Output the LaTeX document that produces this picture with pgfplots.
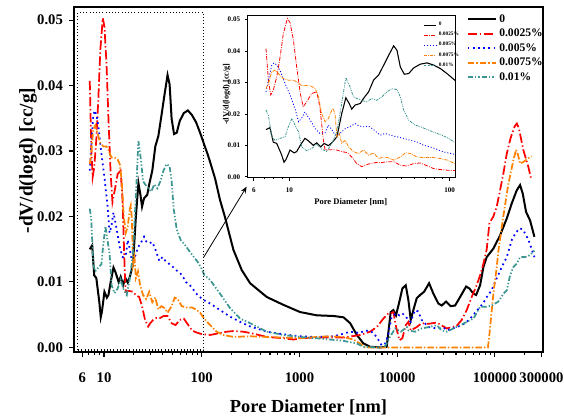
\documentclass[border=0pt]{standalone}
\usepackage{fontspec}
\setmainfont{Liberation Serif}
\usepackage{pgfplots}
\pgfplotsset{compat=1.18}
\usepackage{pgfplotstable}
\usetikzlibrary{arrows.meta}
\definecolor{cred}{RGB}{255,0,0}
\definecolor{cblue}{RGB}{0,0,255}
\definecolor{corange}{RGB}{255,128,0}
\definecolor{cteal}{RGB}{60,150,145}

\pgfplotstableread{
x y
7.15 0.0150
7.57 0.0156
7.94 0.0110
8.34 0.0106
8.96 0.0069
9.26 0.0046
9.53 0.0055
10.1 0.0085
10.7 0.0076
11.1 0.0080
11.7 0.0100
12.5 0.0122
13.1 0.0115
14.1 0.0100
14.8 0.0108
15.7 0.0095
16.5 0.0106
17.5 0.0099
18.4 0.0108
19.8 0.0127
21.2 0.0200
22.5 0.0251
23.6 0.0233
24.5 0.0215
25.7 0.0228
27.7 0.0233
29.0 0.0249
31.2 0.0270
33.5 0.0307
36.0 0.0323
38.7 0.0354
41.6 0.0386
44.7 0.0416
46.9 0.0402
49.2 0.0349
52.1 0.0326
55.5 0.0328
59.6 0.0346
65.6 0.0358
72.2 0.0362
79.4 0.0355
87.5 0.0344
96.2 0.0328
105.9 0.0310
115 0.0295
122 0.0283
137 0.0258
154 0.0225
173 0.0199
211 0.0149
257 0.0118
313 0.0098
463 0.0077
686 0.0065
1016 0.0054
1507 0.0049
2230 0.0048
2825 0.0046
3305 0.0037
3866 0.0019
4523 0.0006
5292 0.0001
6700 0.0000
7816 0.0001
8590 0.0054
9150 0.0057
9740 0.0049
10540 0.0070
11310 0.0090
12240 0.0095
13040 0.0072
13770 0.0042
14660 0.0057
15850 0.0075
17170 0.0080
18870 0.0085
21230 0.0098
23510 0.0082
26440 0.0067
28590 0.0064
31690 0.0070
35370 0.0063
39200 0.0064
44090 0.0077
50780 0.0093
54950 0.0090
60380 0.0082
64280 0.0080
70650 0.0095
76400 0.0123
82600 0.0138
96600 0.0151
113000 0.0171
132400 0.0197
148900 0.0220
167500 0.0240
181200 0.0248
192900 0.0235
208700 0.0207
229200 0.0194
254000 0.0169
}\tblA

\pgfplotstableread{
x y
7.15 0.0407
7.4 0.0307
7.65 0.0260
7.94 0.0275
8.34 0.0317
8.75 0.0380
9.17 0.0455
9.72 0.0503
10.1 0.0490
10.6 0.0434
11.1 0.0350
11.7 0.0265
12.2 0.0222
12.8 0.0238
13.8 0.0265
14.8 0.0270
15.5 0.0222
16.3 0.0116
16.7 0.0085
17.5 0.0086
18.4 0.0086
19.8 0.0085
21.2 0.0080
22.9 0.0077
24.5 0.0063
26.3 0.0042
28.3 0.0032
29.7 0.0037
31.9 0.0042
34.3 0.0045
37.6 0.0045
40.7 0.0048
44.7 0.0048
49.2 0.0037
53.9 0.0034
59.6 0.0042
65.6 0.0044
72.2 0.0035
79.4 0.0026
87.5 0.0023
96.2 0.0021
105.9 0.0020
122 0.0019
142 0.0021
180 0.0024
211 0.0025
267 0.0024
338 0.0021
463 0.0016
686 0.0014
868 0.0012
1016 0.0014
1390 0.0015
2820 0.0015
4170 0.0019
5280 0.0024
6180 0.0031
7230 0.0044
8130 0.0052
8590 0.0052
9150 0.0054
9740 0.0032
10540 0.0011
11310 0.0014
12240 0.0034
13040 0.0039
13770 0.0026
15850 0.0031
17830 0.0037
20880 0.0036
25400 0.0038
32200 0.0029
40700 0.0033
45800 0.0042
51500 0.0057
57900 0.0077
64300 0.0093
70600 0.0110
76400 0.0128
82600 0.0150
88000 0.0190
96600 0.0200
104500 0.0215
113000 0.0240
122000 0.0265
132000 0.0295
145000 0.0320
160000 0.0338
168000 0.0342
176000 0.0335
196000 0.0301
220000 0.0276
234000 0.0259
}\tblB

\pgfplotstableread{
x y
7.15 0.0270
7.4 0.0307
7.76 0.0354
8.02 0.0362
8.41 0.0354
8.83 0.0333
9.4 0.0296
10.1 0.0260
10.85 0.0217
11.4 0.0175
11.9 0.0185
12.5 0.0206
13.5 0.0180
14.5 0.0153
15.5 0.0138
16.7 0.0140
17.5 0.0164
18.4 0.0150
19.3 0.0132
20.7 0.0138
22.3 0.0153
23.9 0.0160
25.7 0.0169
27.0 0.0162
29.0 0.0159
31.2 0.0161
33.5 0.0150
36.9 0.0132
39.6 0.0138
42.6 0.0132
46.9 0.0127
51.6 0.0122
56.8 0.0116
62.5 0.0111
68.8 0.0100
75.7 0.0095
83.3 0.0087
91.7 0.0079
105.9 0.0072
122 0.0067
154 0.0057
195 0.0047
247 0.0039
313 0.0032
463 0.0024
686 0.0020
1016 0.0017
1507 0.0016
2230 0.0017
2825 0.0021
3305 0.0024
4170 0.0022
4680 0.0026
5470 0.0024
6180 0.0016
6950 0.0003
7560 0.0006
8130 0.0021
8800 0.0047
9740 0.0052
10540 0.0049
11310 0.0052
12240 0.0047
13040 0.0042
13770 0.0039
15250 0.0057
16400 0.0055
17830 0.0042
20900 0.0031
25400 0.0029
30000 0.0030
32200 0.0026
40700 0.0031
45800 0.0034
51500 0.0039
56000 0.0044
62000 0.0052
76400 0.0068
82600 0.0077
92400 0.0087
104000 0.0105
118000 0.0123
132400 0.0138
148900 0.0164
164900 0.0176
181200 0.0182
196000 0.0179
221000 0.0164
254000 0.0138
}\tblC

\pgfplotstableread{
x y
7.15 0.0280
7.4 0.0296
7.76 0.0333
8.13 0.0339
8.53 0.0328
9.17 0.0312
9.86 0.0307
10.6 0.0307
11.1 0.0302
11.9 0.0290
12.8 0.0290
13.8 0.0287
14.5 0.0280
15.2 0.0254
15.9 0.0201
16.7 0.0175
17.5 0.0185
18.4 0.0212
18.8 0.0217
19.3 0.0196
19.8 0.0127
20.5 0.0138
21.2 0.0106
22.3 0.0116
23.4 0.0095
25.1 0.0080
27.0 0.0074
29.0 0.0085
31.2 0.0069
33.5 0.0076
36.0 0.0058
38.7 0.0063
41.6 0.0060
44.7 0.0053
49.2 0.0063
52.9 0.0076
56.8 0.0074
62.5 0.0063
68.8 0.0061
79.4 0.0061
87.5 0.0058
96.2 0.0053
105.9 0.0044
122 0.0034
142 0.0024
167 0.0019
211 0.0016
313 0.0017
463 0.0016
686 0.0015
1016 0.0014
1507 0.0016
2055 0.0017
2820 0.0016
3565 0.0012
4170 0.0006
4700 0.0000
10000 0.0000
40000 0.0000
85000 0.0000
88000 0.0020
92000 0.0050
97000 0.0085
104000 0.0120
109000 0.0149
122000 0.0200
137600 0.0250
154800 0.0286
165000 0.0302
172000 0.0295
181000 0.0281
195000 0.0283
215000 0.0288
237000 0.0292
}\tblD

\pgfplotstableread{
x y
7.15 0.0212
7.4 0.0196
7.76 0.0127
8.13 0.0116
8.74 0.0122
9.4 0.0127
9.86 0.0159
10.35 0.0185
10.85 0.0164
11.4 0.0143
11.95 0.0095
12.8 0.0083
13.8 0.0090
14.8 0.0104
15.9 0.0088
17.1 0.0080
18.4 0.0106
19.8 0.0143
21.2 0.0233
22.5 0.0315
23.9 0.0286
25.1 0.0254
26.4 0.0249
28.3 0.0243
30.4 0.0238
32.7 0.0249
35.1 0.0243
37.8 0.0254
40.6 0.0270
43.6 0.0280
46.9 0.0277
49.2 0.0254
51.6 0.0212
55.5 0.0180
61.0 0.0164
67.2 0.0157
73.9 0.0148
81.3 0.0140
89.5 0.0132
98.6 0.0122
105.9 0.0111
122 0.0103
154 0.0082
195 0.0060
247 0.0044
313 0.0037
463 0.0024
686 0.0019
1016 0.0016
1507 0.0014
2820 0.0010
3870 0.0006
4520 0.0001
6180 0.0000
7560 0.0002
8450 0.0016
9530 0.0029
10900 0.0024
12600 0.0031
13040 0.0026
15250 0.0024
17830 0.0029
20880 0.0031
25400 0.0034
28600 0.0026
32200 0.0024
37700 0.0029
44300 0.0034
51500 0.0039
60400 0.0044
70600 0.0062
82300 0.0062
92900 0.0064
108700 0.0070
122300 0.0082
132400 0.0087
142000 0.0108
154800 0.0123
167500 0.0128
181200 0.0138
203800 0.0138
229200 0.0141
254000 0.0148
}\tblE

\tikzset{
 s0/.style={black, solid, line width=1.5pt},
 s1/.style={cred, line width=1.3pt, dash pattern=on 7pt off 2pt on 1pt off 2pt},
 s2/.style={cblue, line width=1.3pt, dash pattern=on 1.3pt off 2.6pt},
 s3/.style={corange, line width=1.3pt, dash pattern=on 5pt off 1.5pt on 1pt off 1.5pt},
 s4/.style={cteal, line width=1.3pt, dash pattern=on 4pt off 1.5pt on 1pt off 1.5pt on 1pt off 1.5pt},
 i0/.style={black, solid, line width=0.8pt},
 i1/.style={cred, line width=0.6pt, dash pattern=on 3pt off 1pt on 0.6pt off 1pt},
 i2/.style={cblue, line width=0.6pt, dash pattern=on 0.8pt off 1.4pt},
 i3/.style={corange, line width=0.6pt, dash pattern=on 2.5pt off 0.8pt on 0.6pt off 0.8pt},
 i4/.style={cteal, line width=0.6pt, dash pattern=on 2pt off 0.8pt on 0.6pt off 0.8pt on 0.6pt off 0.8pt},
}

\begin{document}
\begin{tikzpicture}
\useasboundingbox (0pt,0pt) rectangle (423pt,312pt);
\begin{axis}[
  name=main,
  at={(55.5pt,48pt)}, anchor=south west,
  scale only axis, width=351.75pt, height=258.75pt,
  xmode=log, xmin=4.93, xmax=311000,
  ymin=-0.0007, ymax=0.052,
  scaled y ticks=false, scaled x ticks=false,
  axis line style={line width=1.1pt},
  tick pos=left, tick align=outside,
  major tick length=3.8pt, minor tick length=2.2pt,
  every tick/.style={black, line width=0.8pt},
  xtick={6,10,100,1000,10000,100000,300000},
  xticklabels={6,10,100,1000,10000,100000,300000},
  minor xtick={7,8,9,20,30,40,50,60,70,80,90,200,300,400,500,600,700,800,900,2000,3000,4000,5000,6000,7000,8000,9000,20000,30000,40000,50000,60000,70000,80000,90000,200000},
  ytick={0,0.01,0.02,0.03,0.04,0.05},
  yticklabels={0.00,0.01,0.02,0.03,0.04,0.05},
  ticklabel style={font=\fontsize{11}{13}\selectfont\bfseries},
  xticklabel style={yshift=-8.5pt},
  yticklabel style={xshift=-1pt},
  xlabel={Pore Diameter [nm]},
  ylabel={-dV/d(logd) [cc/g]},
  every axis x label/.style={at={(axis description cs:0.5,-0.159)}, anchor=center, font=\fontsize{13.8}{16}\selectfont\bfseries},
  every axis y label/.style={at={(axis description cs:-0.098,0.555)}, rotate=90, anchor=center, font=\fontsize{14.5}{17}\selectfont\bfseries},
  legend style={at={(0.828,0.995)}, anchor=north west, draw=none, fill=none, font=\fontsize{8.7}{10}\selectfont\bfseries, row sep=-0.4pt},
  legend cell align=left,
  legend image code/.code={\draw[#1] (0pt,0pt) -- (21pt,0pt);},
]
\addplot[s0] table {\tblA}; \addlegendentry{0}
\addplot[s1] table {\tblB}; \addlegendentry{0.0025\%}
\addplot[s2] table {\tblC}; \addlegendentry{0.005\%}
\addplot[s3] table {\tblD}; \addlegendentry{0.0075\%}
\addplot[s4] table {\tblE}; \addlegendentry{0.01\%}
\draw[black, line width=0.8pt, dash pattern=on 0.8pt off 1.6pt] (axis cs:5.4,-0.0004) rectangle (axis cs:105,0.0511);
\coordinate (arrS) at (axis cs:105,0.0138);
\end{axis}

\begin{axis}[
  name=inset,
  at={(185.8pt,178.7pt)}, anchor=south west,
  scale only axis, width=155.5pt, height=122pt,
  axis background/.style={fill=white},
  xmode=log, xmin=5.5, xmax=108,
  ymin=-0.0003, ymax=0.0514,
  scaled y ticks=false, scaled x ticks=false,
  axis line style={line width=0.8pt},
  tick pos=left, tick align=outside,
  major tick length=2.2pt, minor tick length=1.3pt,
  every tick/.style={black, line width=0.5pt},
  xtick={6,10,100}, xticklabels={6,10,100},
  minor xtick={7,8,9,20,30,40,50,60,70,80,90},
  ytick={0,0.01,0.02,0.03,0.04,0.05},
  yticklabels={0.00,0.01,0.02,0.03,0.04,0.05},
  ticklabel style={font=\fontsize{5.3}{6}\selectfont\bfseries},
  xticklabel style={yshift=-1.5pt},
  xlabel={Pore Diameter [nm]},
  ylabel={-dV/d(logd) [cc/g]},
  every axis x label/.style={at={(axis description cs:0.497,-0.1475)}, anchor=center, font=\fontsize{6.4}{7.5}\selectfont\bfseries},
  every axis y label/.style={at={(axis description cs:-0.101,0.514)}, rotate=90, anchor=center, font=\fontsize{6.1}{7}\selectfont\bfseries},
  legend style={at={(0.826,0.99)}, anchor=north west, draw=none, fill=none, font=\fontsize{4}{4.6}\selectfont\bfseries, row sep=-0.6pt},
  legend cell align=left,
  legend image code/.code={\draw[#1] (0pt,0pt) -- (9pt,0pt);},
]
\addplot[i0] table {\tblA}; \addlegendentry{0}
\addplot[i1] table {\tblB}; \addlegendentry{0.0025\%}
\addplot[i2] table {\tblC}; \addlegendentry{0.005\%}
\addplot[i3] table {\tblD}; \addlegendentry{0.0075\%}
\addplot[i4] table {\tblE}; \addlegendentry{0.01\%}
\end{axis}
\draw[-{Stealth[length=5pt,width=4pt]}, line width=0.6pt] (arrS) -- (185pt,172pt);
\end{tikzpicture}
\end{document}
